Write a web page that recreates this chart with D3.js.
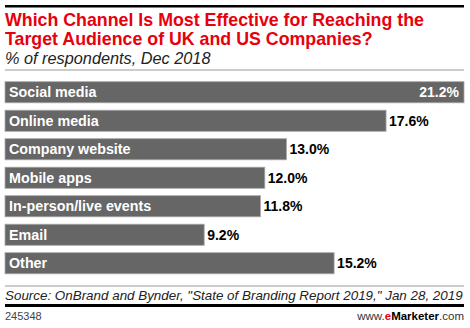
<!DOCTYPE html>
<html><head><meta charset="utf-8">
<script src="https://cdn.jsdelivr.net/npm/d3@7"></script>
<style>body{margin:0;background:#fff}svg{display:block}</style>
</head><body>
<script>
const categories = ["Social media","Online media","Company website","Mobile apps","In-person/live events","Email","Other"];
const values = [21.2,17.6,13.0,12.0,11.8,9.2,15.2];
const titleLines = ["Which Channel Is Most Effective for Reaching the","Target Audience of UK and US Companies?"];
const subtitle = "% of respondents, Dec 2018";
const source = "Source: OnBrand and Bynder, \"State of Branding Report 2019,\" Jan 28, 2019";
const chartId = "245348";

const W=470,H=328;
const svg=d3.select("body").append("svg").attr("width",W).attr("height",H);
const F="'Liberation Sans', Arial, sans-serif";

svg.append("rect").attr("x",5).attr("y",5).attr("width",459).attr("height",2.5).attr("fill","#000");
svg.selectAll("text.title").data(titleLines).join("text").attr("class","title")
  .attr("x",5).attr("y",(d,i)=>26+i*18.5).attr("fill","#e8000d")
  .attr("font-family",F).attr("font-weight","bold").attr("font-size",17.8).text(d=>d);
svg.append("text").attr("x",5).attr("y",63.5).attr("font-family",F).attr("font-style","italic")
  .attr("font-size",16.3).attr("fill","#222").text(subtitle);
svg.append("rect").attr("x",5).attr("y",69.5).attr("width",459).attr("height",1).attr("fill","#999");

const x=d3.scaleLinear().domain([0,21.2]).range([5,464]);
const y=d3.scaleBand().domain(categories).range([78,277.5]).paddingInner(0.26).paddingOuter(0.13);
const data=categories.map((c,i)=>({c,v:values[i]}));
const g=svg.append("g");
g.selectAll("rect").data(data).join("rect")
  .attr("x",x(0)).attr("y",d=>y(d.c)).attr("width",d=>x(d.v)-x(0)).attr("height",y.bandwidth())
  .attr("fill","#666").attr("stroke","#a8a8a8").attr("stroke-width",0.8);
g.selectAll("text.lab").data(data).join("text").attr("class","lab")
  .attr("x",x(0)+4).attr("y",d=>y(d.c)+y.bandwidth()/2+5).attr("fill","#fff")
  .attr("font-family",F).attr("font-weight","bold").attr("font-size",14.3).text(d=>d.c);
const maxV=d3.max(values);
g.selectAll("text.val").data(data).join("text").attr("class","val")
  .attr("x",d=>d.v===maxV?x(d.v)-5:x(d.v)+3)
  .attr("text-anchor",d=>d.v===maxV?"end":"start")
  .attr("y",d=>y(d.c)+y.bandwidth()/2+5).attr("fill",d=>d.v===maxV?"#fff":"#000")
  .attr("font-family",F).attr("font-weight","bold").attr("font-size",14).text(d=>d.v.toFixed(1)+"%");

svg.append("rect").attr("x",5).attr("y",285.5).attr("width",459).attr("height",1).attr("fill","#999");
svg.append("text").attr("x",5).attr("y",300).attr("font-family",F).attr("font-style","italic")
  .attr("font-size",13.4).attr("fill","#222").text(source);
svg.append("rect").attr("x",5).attr("y",304).attr("width",459).attr("height",3).attr("fill","#000");
svg.append("text").attr("x",5).attr("y",320).attr("font-family",F).attr("font-size",11).attr("fill","#444").text(chartId);
const wm=svg.append("text").attr("x",464).attr("y",320).attr("text-anchor","end").attr("font-family",F).attr("font-size",11.5).attr("fill","#333");
wm.append("tspan").text("www.");
wm.append("tspan").attr("fill","#e8000d").attr("font-weight","bold").text("e");
wm.append("tspan").attr("font-weight","bold").attr("fill","#000").text("Marketer");
wm.append("tspan").text(".com");
</script>
</body></html>
